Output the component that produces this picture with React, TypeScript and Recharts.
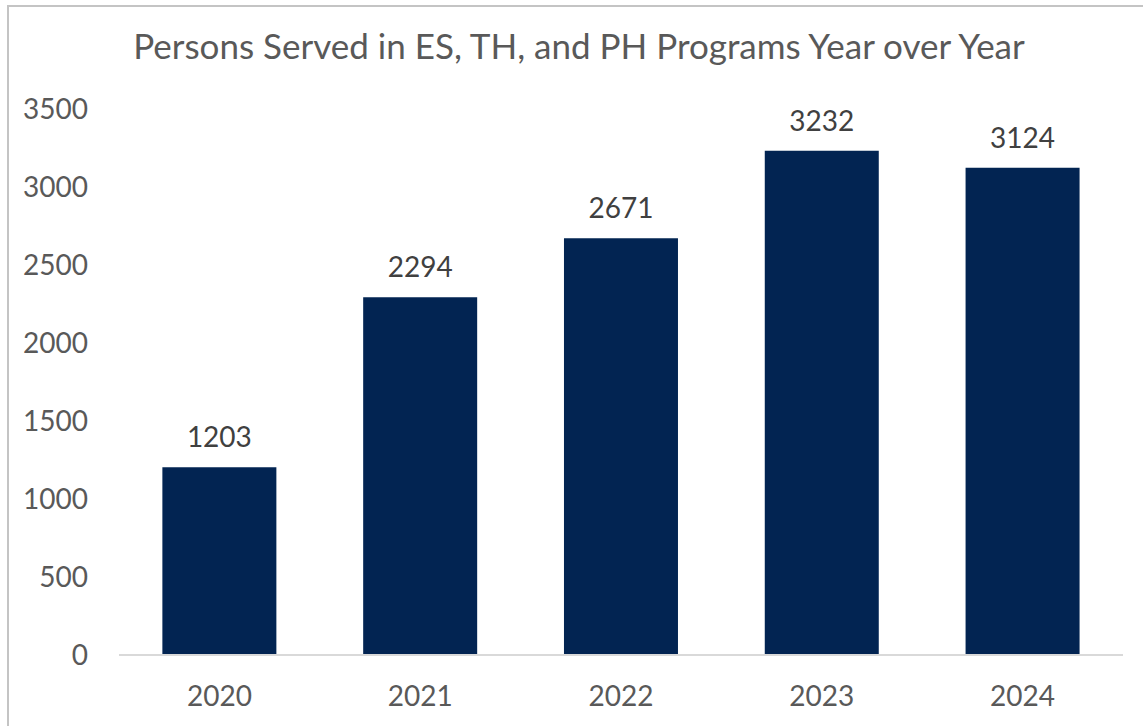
import { BarChart, Bar, XAxis, YAxis, LabelList } from 'recharts';

const years = ['2020', '2021', '2022', '2023', '2024'];
const personsServed = [1203, 2294, 2671, 3232, 3124];
const yTicks = [0, 500, 1000, 1500, 2000, 2500, 3000, 3500];

const BAR_COLOR = '#022452';
const FONT = 'Lato, "Open Sans", sans-serif';

const data = years.map((year, i) => ({ year, value: personsServed[i] }));

export default function App() {
  return (
    <div
      style={{
        position: 'absolute',
        left: 0,
        top: 0,
        width: 1143,
        height: 726,
        background: '#fff',
        overflow: 'hidden',
        fontFamily: FONT,
      }}
    >
      {/* chart frame, runs off the right and bottom edge */}
      <div
        style={{
          position: 'absolute',
          left: 7,
          top: 5,
          width: 1200,
          height: 800,
          borderLeft: '2px solid #c4c4c4',
          borderTop: '2px solid #c4c4c4',
          boxSizing: 'border-box',
        }}
      />
      <div
        style={{
          position: 'absolute',
          left: 0,
          top: 24,
          width: 1158,
          textAlign: 'center',
          fontSize: 35,
          color: '#595959',
          whiteSpace: 'nowrap',
        }}
      >
        Persons Served in ES, TH, and PH Programs Year over Year
      </div>
      <div style={{ position: 'absolute', left: 0, top: 0 }}>
        <BarChart
          width={1143}
          height={726}
          data={data}
          margin={{ top: 109, right: 20, bottom: 21, left: 0 }}
          barCategoryGap="21.6%"
        >
          <XAxis
            dataKey="year"
            height={50}
            tickLine={false}
            tickSize={6}
            tickMargin={25}
            axisLine={{ stroke: '#d9d9d9', strokeWidth: 2 }}
            tick={{ fill: '#595959', fontSize: 28, fontFamily: FONT }}
          />
          <YAxis
            width={119}
            domain={[0, 3500]}
            ticks={yTicks}
            interval={0}
            axisLine={false}
            tickLine={false}
            tickSize={6}
            tickMargin={25}
            tick={{ fill: '#595959', fontSize: 28, fontFamily: FONT }}
          />
          <Bar dataKey="value" fill={BAR_COLOR} isAnimationActive={false}>
            <LabelList
              dataKey="value"
              position="top"
              offset={20}
              fill="#404040"
              fontSize={28}
              fontFamily={FONT}
            />
          </Bar>
        </BarChart>
      </div>
    </div>
  );
}
